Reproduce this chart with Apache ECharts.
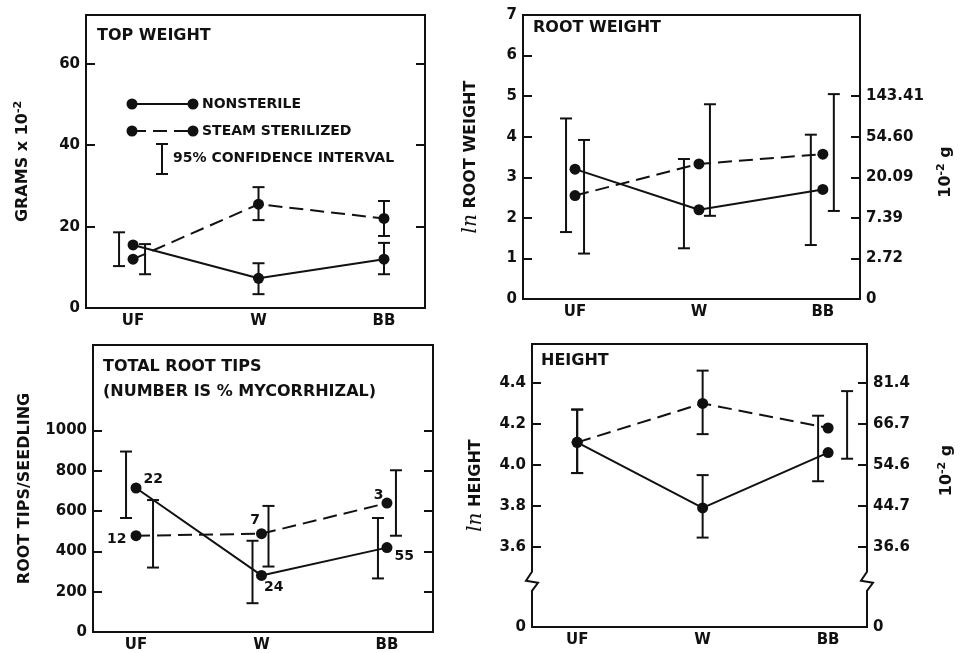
<!DOCTYPE html>
<html><head><meta charset="utf-8">
<script src="https://cdn.jsdelivr.net/npm/echarts@6/dist/echarts.min.js"></script>
<style>html,body{margin:0;padding:0;background:#fff}#c{width:967px;height:653px}</style>
</head><body><div id="c"></div>
<script>
// ---------- data ----------
const categories = ['UF', 'W', 'BB'];

// Top weight (grams x 10^-2)
const topNonsterile = [15.5, 7.3, 12.0];
const topSteam = [12.0, 25.5, 22.0];
const topNonsterileCI = [[10.3, 18.6], [3.4, 11.0], [8.3, 16.0]];
const topSteamCI = [[8.3, 15.7], [21.6, 29.7], [17.7, 26.3]];
const topTicks = [20, 40, 60];
const topLabels = [0, 20, 40, 60];

// Root weight (ln)
const rootNonsterile = [3.2, 2.2, 2.7];
const rootSteam = [2.55, 3.33, 3.57];
const rootNonsterileCI = [[1.65, 4.45], [1.25, 3.45], [1.33, 4.05]];
const rootSteamCI = [[1.12, 3.92], [2.05, 4.8], [2.17, 5.05]];
const rootTicksLeft = [1, 2, 3, 4, 5, 6];
const rootLabelsLeft = [0, 1, 2, 3, 4, 5, 6, 7];
const rootTicksRight = [1, 2, 3, 4, 5];
const rootLabelsRight = [0, 1, 2, 3, 4, 5];
const rootRightText = ['0', '2.72', '7.39', '20.09', '54.60', '143.41'];

// Total root tips per seedling
const tipsNonsterile = [715, 281, 419];
const tipsSteam = [478, 488, 640];
const tipsNonsterileCI = [[566, 896], [143, 453], [266, 566]];
const tipsSteamCI = [[320, 655], [325, 626], [478, 803]];
const mycorrNonsterile = [22, 24, 55];
const mycorrSteam = [12, 7, 3];
const tipsTicks = [200, 400, 600, 800, 1000];
const tipsLabels = [0, 200, 400, 600, 800, 1000];

// Height (ln)
const htNonsterile = [4.11, 3.79, 4.06];
const htSteam = [4.11, 4.30, 4.18];
const htNonsterileCI = [[3.96, 4.27], [3.645, 3.95], [3.92, 4.24]];
const htSteamCI = [[3.96, 4.27], [4.15, 4.46], [4.03, 4.36]];
const htTicks = [3.6, 3.8, 4.0, 4.2, 4.4];
const htLabels = [0, 3.6, 3.8, 4.0, 4.2, 4.4];
const htRightText = ['0', '36.6', '44.7', '54.6', '66.7', '81.4'];
const htBreak = [0.2, 3.45];

// ---------- styles ----------
const INK = '#111';
const FONT = 'DejaVu Sans';
const lbl = {fontFamily: FONT, fontWeight: 'bold', fontSize: 15, color: INK};
const DASH = [14, 7];
// horizontal pixel nudges of the hand-drawn error bars [nonsterile, steam] per category
const offTop = [[-14, 0, 0], [12, 0, 0]];
const offRoot = [[-9, -15, -12], [9, 11, 11]];
const offTips = [[-10, -9, -9], [17, 7, 9]];
const offHt = [[0, 0, -10], [0, 0, 19]];
// label placement of mycorrhizal % numbers
const tipLabelNon = [{position: 'right', offset: [0, -9]}, {position: 'right', offset: [-5, 12]}, {position: 'right', offset: [0, 9]}];
const tipLabelSteam = [{position: 'left', offset: [-2, 4]}, {position: 'left', offset: [6, -13]}, {position: 'left', offset: [4, -8]}];

const xpos = i => i + 1;
const pts = arr => arr.map((v, i) => [xpos(i), v]);
const cis = arr => arr.map((c, i) => [xpos(i), c[0], c[1]]);

function xAx(gi, min, max) {
  return {type: 'value', gridIndex: gi, min, max,
    axisLine: {show: true, onZero: false, lineStyle: {color: INK, width: 2}},
    axisTick: {show: false}, splitLine: {show: false},
    axisLabel: Object.assign({}, lbl, {margin: 6, customValues: [1, 2, 3],
      formatter: v => categories[Math.round(v) - 1]})};
}
function yAx(gi, pos, min, max, ticks, labels, fmt, extra) {
  const a = {type: 'value', gridIndex: gi, position: pos, min, max,
    axisLine: {show: true, onZero: false, lineStyle: {color: INK, width: 2}},
    axisTick: {show: true, inside: true, length: 9, customValues: ticks, lineStyle: {color: INK, width: 2}},
    splitLine: {show: false},
    axisLabel: labels ? Object.assign({}, lbl, {margin: 6, customValues: labels, formatter: fmt}) : {show: false}};
  return Object.assign(a, extra || {});
}
function lineSeries(data, xi, yi, dashed, extra) {
  return Object.assign({type: 'line', xAxisIndex: xi, yAxisIndex: yi, data: pts(data),
    symbol: 'circle', symbolSize: 11, itemStyle: {color: INK},
    lineStyle: {color: INK, width: 2, type: dashed ? DASH : 'solid'}, z: 3}, extra || {});
}
function errSeries(ci, xi, yi, offsets) {
  return {type: 'custom', xAxisIndex: xi, yAxisIndex: yi, data: cis(ci), encode: {x: 0, y: [1, 2]}, z: 4,
    renderItem: (params, api) => {
      const lo = api.coord([api.value(0), api.value(1)]);
      const hi = api.coord([api.value(0), api.value(2)]);
      const cx = lo[0] + (offsets[params.dataIndex] || 0), hw = 6;
      const st = {stroke: INK, lineWidth: 2};
      return {type: 'group', children: [
        {type: 'line', shape: {x1: cx, y1: lo[1], x2: cx, y2: hi[1]}, style: st},
        {type: 'line', shape: {x1: cx - hw, y1: lo[1], x2: cx + hw, y2: lo[1]}, style: st},
        {type: 'line', shape: {x1: cx - hw, y1: hi[1], x2: cx + hw, y2: hi[1]}, style: st}
      ]};
    }};
}
// zigzag marks drawn on the left and right frame lines where the height axis is broken
function breakMarkSeries(xi, yi, xmin, xmax) {
  return {type: 'custom', xAxisIndex: xi, yAxisIndex: yi, clip: false, z: 10, silent: true,
    data: [[xmin, htBreak[0], htBreak[1]], [xmax, htBreak[0], htBreak[1]]], encode: {x: 0, y: [1, 2]},
    renderItem: (params, api) => {
      const a = api.coord([api.value(0), api.value(1)]);
      const b = api.coord([api.value(0), api.value(2)]);
      const x = a[0], yc = (a[1] + b[1]) / 2;
      return {type: 'group', children: [
        {type: 'rect', shape: {x: x - 4, y: yc - 13, width: 8, height: 23}, style: {fill: '#fff'}},
        {type: 'polyline', shape: {points: [[x, yc - 14], [x, yc - 10], [x - 6, yc - 1], [x + 6, yc + 1], [x, yc + 9], [x, yc + 12]]},
          style: {stroke: INK, lineWidth: 2, fill: null}}
      ]};
    }};
}
const sup = {fontFamily: FONT, fontWeight: 'bold', fontSize: 11, color: INK, verticalAlign: 'top', padding: [0, 0, 8, 0]};
const lnS = {fontFamily: 'DejaVu Serif', fontStyle: 'italic', fontWeight: 'normal', fontSize: 20, color: INK};
const nameStyle = Object.assign({}, lbl, {fontSize: 16, rich: {sup, ln: lnS}});
const gridBox = {show: true, borderColor: INK, borderWidth: 2, backgroundColor: 'transparent'};

const chart = echarts.init(document.getElementById('c'), null, {renderer: 'canvas'});
chart.setOption({
  animation: false,
  backgroundColor: '#fff',
  title: [
    {text: 'TOP WEIGHT', left: 97, top: 28},
    {text: 'ROOT WEIGHT', left: 533, top: 20},
    {text: 'TOTAL ROOT TIPS', left: 103, top: 359},
    {text: '(NUMBER IS % MYCORRHIZAL)', left: 103, top: 384},
    {text: 'HEIGHT', left: 541, top: 353}
  ].map(t => Object.assign(t, {padding: 0, textStyle: Object.assign({}, lbl, {fontSize: 16})})),
  grid: [
    Object.assign({left: 86, top: 15, width: 339, height: 293}, gridBox),
    Object.assign({left: 523, top: 15, width: 337, height: 284}, gridBox),
    Object.assign({left: 93, top: 345, width: 340, height: 289}, gridBox),
    Object.assign({left: 532, top: 344, width: 335, height: 283}, gridBox)
  ],
  xAxis: [xAx(0, 0.625, 3.327), xAx(1, 0.58, 3.30), xAx(2, 0.657, 3.367), xAx(3, 0.64, 3.31)],
  yAxis: [
    yAx(0, 'left', 0, 72, topTicks, topLabels, v => String(v),
      {name: 'GRAMS x 10{sup|-2}', nameLocation: 'middle', nameRotate: 90, nameGap: 54, nameTextStyle: nameStyle}),
    yAx(0, 'right', 0, 72, topTicks, null),
    yAx(1, 'left', 0, 7, rootTicksLeft, rootLabelsLeft, v => String(v),
      {name: '{ln|ln} ROOT WEIGHT', nameLocation: 'middle', nameRotate: 90, nameGap: 42, nameTextStyle: nameStyle}),
    yAx(1, 'right', 0, 7, rootTicksRight, rootLabelsRight, v => rootRightText[Math.round(v)],
      {name: '10{sup|-2} g', nameLocation: 'middle', nameRotate: 90, nameGap: 76,
       nameTextStyle: Object.assign({}, nameStyle, {padding: [0, 30, 0, 0]})}),
    yAx(2, 'left', 0, 1425, tipsTicks, tipsLabels, v => String(v),
      {name: 'ROOT TIPS/SEEDLING', nameLocation: 'middle', nameRotate: 90, nameGap: 60, nameTextStyle: nameStyle}),
    yAx(2, 'right', 0, 1425, tipsTicks, null),
    yAx(3, 'left', 0, 4.59, htTicks, htLabels, v => v === 0 ? '0' : v.toFixed(1),
      {name: '{ln|ln} HEIGHT', nameLocation: 'middle', nameRotate: 90, nameGap: 46, nameTextStyle: nameStyle,
       breaks: [{start: htBreak[0], end: htBreak[1], gap: '3%'}], breakArea: {show: false}}),
    yAx(3, 'right', 0, 4.59, htTicks, htLabels, v => htRightText[htLabels.indexOf(v)],
      {name: '10{sup|-2} g', nameLocation: 'middle', nameRotate: 90, nameGap: 70,
       nameTextStyle: Object.assign({}, nameStyle, {padding: [0, 0, 0, 30]}),
       breaks: [{start: htBreak[0], end: htBreak[1], gap: '3%'}], breakArea: {show: false}})
  ],
  series: [
    lineSeries(topNonsterile, 0, 0, false), lineSeries(topSteam, 0, 0, true),
    errSeries(topNonsterileCI, 0, 0, offTop[0]), errSeries(topSteamCI, 0, 0, offTop[1]),

    lineSeries(rootNonsterile, 1, 2, false), lineSeries(rootSteam, 1, 2, true),
    errSeries(rootNonsterileCI, 1, 2, offRoot[0]), errSeries(rootSteamCI, 1, 2, offRoot[1]),

    lineSeries(tipsNonsterile, 2, 4, false, {
      data: pts(tipsNonsterile).map((p, i) => ({value: p, label: Object.assign({show: true, formatter: String(mycorrNonsterile[i]), distance: 2}, lbl, {fontSize: 14}, tipLabelNon[i])}))}),
    lineSeries(tipsSteam, 2, 4, true, {
      data: pts(tipsSteam).map((p, i) => ({value: p, label: Object.assign({show: true, formatter: String(mycorrSteam[i]), distance: 2}, lbl, {fontSize: 14}, tipLabelSteam[i])}))}),
    errSeries(tipsNonsterileCI, 2, 4, offTips[0]), errSeries(tipsSteamCI, 2, 4, offTips[1]),

    lineSeries(htNonsterile, 3, 6, false), lineSeries(htSteam, 3, 6, true),
    errSeries(htNonsterileCI, 3, 6, offHt[0]), errSeries(htSteamCI, 3, 6, offHt[1]),
    breakMarkSeries(3, 6, 0.64, 3.31)
  ],
  graphic: [
    {type: 'group', children: [
      {type: 'line', shape: {x1: 132, y1: 104, x2: 193, y2: 104}, style: {stroke: INK, lineWidth: 2}},
      {type: 'circle', shape: {cx: 132, cy: 104, r: 5.5}, style: {fill: INK}},
      {type: 'circle', shape: {cx: 193, cy: 104, r: 5.5}, style: {fill: INK}},
      {type: 'text', x: 202, y: 104, style: {text: 'NONSTERILE', font: 'bold 14px "DejaVu Sans"', fill: INK, verticalAlign: 'middle'}},
      {type: 'line', shape: {x1: 132, y1: 131, x2: 193, y2: 131}, style: {stroke: INK, lineWidth: 2, lineDash: DASH}},
      {type: 'circle', shape: {cx: 132, cy: 131, r: 5.5}, style: {fill: INK}},
      {type: 'circle', shape: {cx: 193, cy: 131, r: 5.5}, style: {fill: INK}},
      {type: 'text', x: 202, y: 131, style: {text: 'STEAM STERILIZED', font: 'bold 14px "DejaVu Sans"', fill: INK, verticalAlign: 'middle'}},
      {type: 'line', shape: {x1: 162, y1: 144, x2: 162, y2: 174}, style: {stroke: INK, lineWidth: 2}},
      {type: 'line', shape: {x1: 156, y1: 144, x2: 168, y2: 144}, style: {stroke: INK, lineWidth: 2}},
      {type: 'line', shape: {x1: 156, y1: 174, x2: 168, y2: 174}, style: {stroke: INK, lineWidth: 2}},
      {type: 'text', x: 173, y: 158, style: {text: '95% CONFIDENCE INTERVAL', font: 'bold 14px "DejaVu Sans"', fill: INK, verticalAlign: 'middle'}}
    ]}
  ]
});
</script></body></html>
